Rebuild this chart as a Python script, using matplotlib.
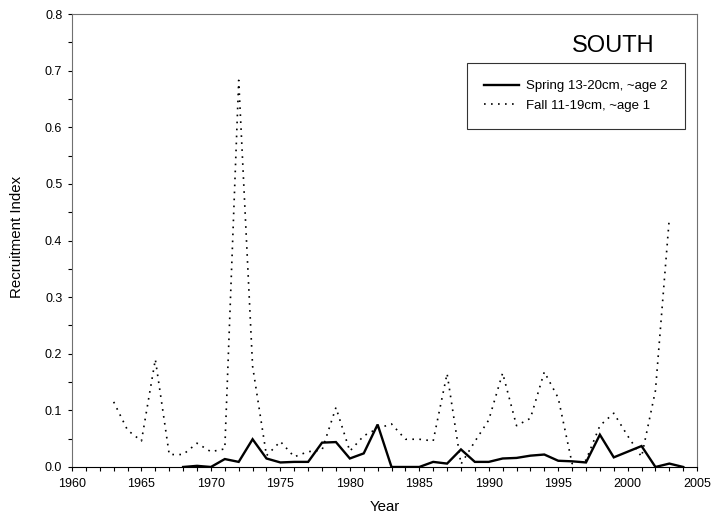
import matplotlib.pyplot as plt
from matplotlib.ticker import MultipleLocator

plt.rcParams['font.family'] = ['Liberation Sans', 'DejaVu Sans']

# Spring 13-20cm, ~age 2
spring_years = list(range(1968, 2005))
spring_vals = [0.000, 0.002, 0.000, 0.014, 0.009, 0.049, 0.015, 0.008, 0.009, 0.009,
               0.043, 0.044, 0.015, 0.024, 0.075, 0.000, 0.000, 0.000, 0.009, 0.006,
               0.031, 0.009, 0.009, 0.015, 0.016, 0.020, 0.022, 0.011, 0.010, 0.008,
               0.057, 0.017, 0.027, 0.037, 0.000, 0.006, 0.000]

# Fall 11-19cm, ~age 1
fall_years = list(range(1963, 2004))
fall_vals = [0.115, 0.065, 0.046, 0.190, 0.022, 0.022, 0.042, 0.027, 0.032, 0.683,
             0.178, 0.020, 0.045, 0.018, 0.027, 0.030, 0.105, 0.028, 0.055, 0.068,
             0.076, 0.049, 0.049, 0.046, 0.165, 0.005, 0.045, 0.083, 0.166, 0.073,
             0.086, 0.168, 0.122, 0.006, 0.012, 0.073, 0.095, 0.055, 0.018, 0.135,
             0.440]

fig = plt.figure(figsize=(7.15, 5.22), dpi=100)
ax = fig.add_axes([0.1007, 0.1054, 0.8743, 0.8676])

ax.plot(spring_years, spring_vals, color='black', lw=1.7, solid_joinstyle='miter',
        label='Spring 13-20cm, ~age 2')
ax.plot(fall_years, fall_vals, color='black', lw=1.2, linestyle=(0, (1, 3.2)),
        label='Fall 11-19cm, ~age 1')

ax.set_xlim(1960, 2005)
ax.set_ylim(0, 0.8)
ax.xaxis.set_major_locator(MultipleLocator(5))
ax.xaxis.set_minor_locator(MultipleLocator(1))
ax.yaxis.set_major_locator(MultipleLocator(0.1))
ax.yaxis.set_minor_locator(MultipleLocator(0.05))
ax.yaxis.set_major_formatter(lambda v, p: '%.1f' % v)
ax.tick_params(which='both', direction='out', length=3, width=0.8, labelsize=9)
ax.tick_params(axis='x', pad=5)
ax.tick_params(axis='y', pad=4)

for s in ['left', 'right', 'top']:
    ax.spines[s].set_color('#707070')
ax.spines['bottom'].set_color('black')

ax.set_xlabel('Year', fontsize=10.8, labelpad=7)
ax.set_ylabel('Recruitment Index', fontsize=10.8)
ax.yaxis.set_label_coords(-0.076, 0.507)

ax.text(0.865, 0.93, 'SOUTH', transform=ax.transAxes, fontsize=17,
        ha='center', va='center')

leg = ax.legend(loc='upper right', bbox_to_anchor=(0.981, 0.892), fontsize=9.5,
                frameon=True, fancybox=False, edgecolor='black', borderpad=1.3,
                handlelength=2.6, handletextpad=0.6, labelspacing=0.55,
                borderaxespad=0)
leg.get_frame().set_linewidth(0.8)

plt.savefig('out.png', dpi=100)
